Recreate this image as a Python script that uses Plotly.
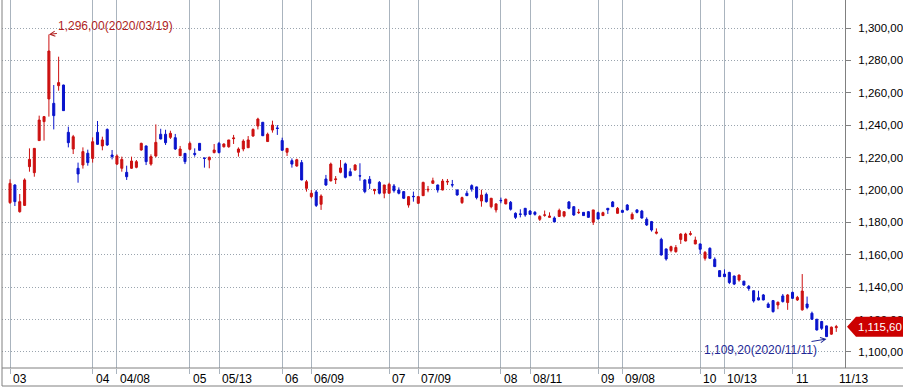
import pandas as pd
import plotly.graph_objects as go

# ---- data -------------------------------------------------------------
holidays = ["2020-04-15", "2020-04-30", "2020-05-01", "2020-05-05", "2020-08-17",
            "2020-09-30", "2020-10-01", "2020-10-02", "2020-10-09"]
dates = [d.strftime("%Y-%m-%d") for d in pd.bdate_range("2020-03-09", "2020-11-13")
         if d.strftime("%Y-%m-%d") not in holidays]

open_ = [1192.2, 1203.1, 1186.6, 1190.5, 1214.4, 1210.7, 1230.5, 1242.2, 1256.2, 1253.5,
         1264.4, 1264.8, 1235.6, 1225.3, 1213.4, 1215.4, 1222.7, 1219.5, 1235.6, 1227.2,
         1237.4, 1221.6, 1216.0, 1213.4, 1210.9, 1213.4, 1214.0, 1224.7, 1227.2, 1216.0,
         1221.0, 1234.4, 1234.4, 1232.5, 1232.3, 1221.2, 1222.6, 1225.1, 1222.6, 1228.8,
         1219.8, 1218.6, 1223.1, 1228.8, 1226.7, 1226.7, 1231.7, 1223.3, 1225.3, 1226.1,
         1233.3, 1239.5, 1241.8, 1229.9, 1237.0, 1238.3, 1230.5, 1223.3, 1218.1, 1214.8,
         1216.9, 1201.0, 1195.9, 1198.8, 1191.2, 1206.8, 1205.6, 1206.4, 1210.9, 1216.1,
         1211.3, 1212.3, 1208.8, 1206.2, 1206.6, 1199.6, 1204.7, 1198.0, 1198.0, 1202.5,
         1200.0, 1199.0, 1190.7, 1196.1, 1191.8, 1196.5, 1200.0, 1204.1, 1203.1, 1200.0,
         1204.9, 1203.3, 1200.0, 1192.2, 1198.0, 1202.7, 1201.9, 1193.2, 1197.3, 1189.7,
         1187.7, 1193.6, 1191.4, 1192.4, 1185.6, 1185.2, 1188.7, 1187.0, 1186.2, 1181.9,
         1184.4, 1183.1, 1182.7, 1183.7, 1183.9, 1192.6, 1189.7, 1186.0, 1186.2, 1186.6,
         1180.1, 1186.0, 1184.2, 1188.7, 1192.6, 1185.6, 1187.4, 1190.7, 1182.1, 1187.7,
         1187.0, 1181.9, 1180.5, 1173.3, 1169.5, 1163.6, 1162.6, 1161.9, 1169.5, 1168.5,
         1172.6, 1166.7, 1166.7, 1157.8, 1164.0, 1157.2, 1150.2, 1148.1, 1149.1, 1146.9,
         1144.4, 1143.7, 1140.5, 1137.8, 1133.5, 1135.2, 1129.6, 1131.7, 1129.0, 1134.6,
         1130.5, 1136.8, 1132.1, 1126.0, 1129.6, 1123.9, 1120.2, 1118.8, 1116.1, 1111.0,
         1115.0]
high = [1206.6, 1203.5, 1197.5, 1207.2, 1225.7, 1225.9, 1245.9, 1245.7, 1296.0, 1264.8,
        1282.3, 1265.0, 1239.1, 1234.0, 1216.9, 1226.3, 1224.9, 1232.5, 1242.6, 1232.9,
        1238.0, 1224.7, 1222.0, 1220.6, 1215.0, 1220.6, 1218.5, 1229.2, 1227.4, 1222.0,
        1240.5, 1237.8, 1237.2, 1236.6, 1234.6, 1227.2, 1222.8, 1229.9, 1225.7, 1229.0,
        1219.9, 1220.6, 1228.4, 1229.7, 1228.8, 1230.9, 1234.0, 1226.3, 1231.3, 1233.3,
        1238.0, 1244.6, 1242.0, 1235.4, 1242.8, 1240.1, 1232.3, 1225.9, 1219.5, 1219.3,
        1218.5, 1206.2, 1200.0, 1200.0, 1197.3, 1209.3, 1216.9, 1208.6, 1218.5, 1216.9,
        1213.4, 1216.0, 1216.5, 1206.6, 1208.6, 1200.6, 1205.5, 1203.1, 1204.5, 1203.7,
        1201.6, 1199.4, 1196.3, 1199.0, 1196.3, 1205.1, 1202.5, 1207.6, 1203.3, 1206.8,
        1206.8, 1206.2, 1200.4, 1195.9, 1199.6, 1203.5, 1202.1, 1200.2, 1198.4, 1195.1,
        1191.8, 1195.3, 1194.7, 1193.2, 1186.2, 1188.1, 1188.9, 1187.6, 1187.0, 1184.4,
        1187.3, 1186.2, 1183.7, 1188.5, 1186.8, 1193.2, 1189.9, 1188.3, 1186.4, 1187.0,
        1187.7, 1186.6, 1186.6, 1188.9, 1193.2, 1189.5, 1187.8, 1191.3, 1186.2, 1188.1,
        1187.7, 1183.1, 1180.9, 1176.3, 1170.5, 1163.8, 1165.6, 1166.0, 1173.3, 1173.6,
        1174.6, 1171.2, 1166.9, 1162.3, 1164.6, 1158.4, 1150.6, 1151.0, 1149.5, 1147.1,
        1147.7, 1143.9, 1141.3, 1138.0, 1137.8, 1135.8, 1130.6, 1132.1, 1131.1, 1135.8,
        1135.8, 1137.2, 1134.6, 1148.1, 1134.2, 1124.9, 1120.4, 1119.2, 1116.3, 1115.7,
        1116.7]
low = [1191.4, 1190.1, 1186.0, 1190.1, 1211.3, 1208.2, 1230.3, 1230.5, 1245.3, 1237.4,
       1261.3, 1248.8, 1226.3, 1222.2, 1204.5, 1213.2, 1215.0, 1216.9, 1227.8, 1224.5,
       1227.2, 1218.9, 1215.4, 1211.3, 1206.2, 1213.0, 1213.4, 1224.3, 1215.4, 1215.0,
       1220.2, 1231.3, 1227.8, 1231.5, 1224.7, 1221.0, 1216.0, 1224.5, 1220.6, 1224.3,
       1213.8, 1213.4, 1222.6, 1222.6, 1226.2, 1226.1, 1228.4, 1220.6, 1223.9, 1226.0,
       1232.9, 1237.4, 1233.3, 1229.8, 1235.4, 1234.0, 1224.4, 1221.0, 1213.8, 1214.4,
       1206.0, 1199.0, 1194.9, 1189.5, 1187.7, 1202.5, 1205.4, 1203.7, 1210.3, 1207.2,
       1208.6, 1212.0, 1205.7, 1198.0, 1200.6, 1197.3, 1197.3, 1194.9, 1197.8, 1198.4,
       1197.3, 1194.4, 1189.1, 1192.8, 1191.4, 1196.3, 1198.6, 1203.9, 1198.4, 1199.8,
       1203.1, 1201.6, 1196.5, 1191.4, 1196.3, 1199.0, 1194.2, 1189.7, 1192.2, 1188.7,
       1186.1, 1191.8, 1191.2, 1187.3, 1182.1, 1183.1, 1183.5, 1184.6, 1184.2, 1180.9,
       1183.5, 1182.9, 1180.1, 1183.3, 1183.1, 1188.1, 1184.0, 1185.2, 1184.0, 1182.9,
       1178.4, 1181.9, 1184.0, 1185.2, 1189.5, 1185.4, 1186.0, 1187.3, 1181.9, 1185.6,
       1182.3, 1177.8, 1174.3, 1172.6, 1159.5, 1156.4, 1161.5, 1161.3, 1166.7, 1168.3,
       1171.8, 1166.5, 1160.5, 1156.4, 1157.6, 1152.5, 1146.3, 1146.3, 1141.9, 1141.3,
       1143.4, 1140.9, 1137.8, 1130.5, 1131.9, 1131.9, 1127.3, 1124.3, 1126.4, 1130.5,
       1126.0, 1132.7, 1131.5, 1125.5, 1126.4, 1119.8, 1113.2, 1113.6, 1109.2, 1110.6,
       1112.4]
close = [1204.1, 1192.8, 1192.8, 1206.2, 1218.9, 1225.7, 1243.2, 1245.3, 1285.8, 1245.9,
         1266.3, 1249.0, 1229.2, 1232.9, 1209.9, 1223.7, 1216.9, 1229.8, 1228.2, 1230.9,
         1227.8, 1220.6, 1221.0, 1218.9, 1208.2, 1217.9, 1217.5, 1228.8, 1217.5, 1220.6,
         1229.4, 1231.5, 1229.2, 1235.0, 1225.3, 1225.3, 1217.5, 1228.8, 1222.0, 1224.5,
         1219.5, 1220.2, 1224.7, 1223.1, 1228.4, 1230.9, 1232.1, 1225.3, 1230.2, 1230.9,
         1237.4, 1243.8, 1233.5, 1234.4, 1240.1, 1238.0, 1224.5, 1225.7, 1216.0, 1218.7,
         1206.2, 1205.1, 1198.0, 1190.5, 1196.3, 1203.1, 1216.0, 1206.8, 1213.6, 1207.8,
         1208.8, 1215.4, 1208.6, 1199.0, 1204.1, 1200.4, 1198.0, 1203.1, 1203.5, 1199.6,
         1198.0, 1194.9, 1195.9, 1195.9, 1195.9, 1204.7, 1200.4, 1205.7, 1200.0, 1205.5,
         1205.3, 1203.1, 1196.9, 1195.3, 1196.5, 1200.6, 1195.3, 1196.9, 1192.8, 1194.9,
         1191.4, 1193.4, 1194.3, 1188.1, 1183.1, 1185.0, 1184.6, 1185.0, 1185.0, 1183.7,
         1184.6, 1183.9, 1180.3, 1187.4, 1186.6, 1188.7, 1184.6, 1186.2, 1184.2, 1183.1,
         1187.7, 1182.1, 1186.0, 1187.7, 1189.7, 1188.7, 1186.2, 1187.7, 1185.0, 1186.2,
         1182.7, 1178.4, 1175.3, 1174.0, 1159.9, 1157.4, 1165.0, 1164.5, 1172.8, 1172.8,
         1173.0, 1169.1, 1163.4, 1161.5, 1157.8, 1152.7, 1146.5, 1146.5, 1142.9, 1141.9,
         1147.5, 1141.3, 1139.2, 1131.5, 1132.1, 1132.1, 1127.5, 1124.9, 1130.7, 1131.1,
         1135.2, 1133.1, 1133.7, 1137.6, 1127.5, 1120.2, 1113.6, 1114.6, 1109.5, 1115.3,
         1115.6]

tick_dates = ["2020-03-09", "2020-04-01", "2020-04-08", "2020-05-04", "2020-05-13",
              "2020-06-01", "2020-06-09", "2020-07-01", "2020-07-09", "2020-08-03",
              "2020-08-11", "2020-09-01", "2020-09-08", "2020-10-05", "2020-10-13",
              "2020-11-02"]
tick_labels = ["03", "04", "04/08", "05", "05/13", "06", "06/09", "07", "07/09", "08",
               "08/11", "09", "09/08", "10", "10/13", "11"]
last_label = "11/13"

y_ticks = [1100, 1120, 1140, 1160, 1180, 1200, 1220, 1240, 1260, 1280, 1300]
y_labels = ["1,100,00", "1,120,00", "1,140,00", "1,160,00", "1,180,00", "1,200,00",
            "1,220,00", "1,240,00", "1,260,00", "1,280,00", "1,300,00"]

max_label = "1,296,00(2020/03/19)"
min_label = "1,109,20(2020/11/11)"
last_price_label = "1,115,60"

# ---- figure -----------------------------------------------------------
RED = "#cc1111"
BLUE = "#0a14cc"
FONT = "Liberation Sans"

idx = list(range(len(dates)))
tick_idx = [dates.index(d) for d in tick_dates]

fig = go.Figure(go.Candlestick(
    x=idx, open=open_, high=high, low=low, close=close,
    increasing=dict(line=dict(color=RED, width=1), fillcolor=RED),
    decreasing=dict(line=dict(color=BLUE, width=1), fillcolor=BLUE),
    whiskerwidth=0, hoverinfo="skip", showlegend=False,
))

W, H = 903, 392
ML, MR, MT, MB = 2, 58, 0, 24
pw, ph = W - ML - MR, H - MT - MB

fig.update_layout(
    width=W, height=H,
    margin=dict(l=ML, r=MR, t=MT, b=MB, pad=0),
    paper_bgcolor="white", plot_bgcolor="white",
    boxgap=0.4,
    font=dict(family=FONT, size=12, color="black"),
    xaxis=dict(
        range=[-1.65, 171.8], rangeslider=dict(visible=False),
        tickmode="array", tickvals=tick_idx, showticklabels=False,
        ticks="outside", ticklen=5, tickcolor="#aab4be", tickwidth=1,
        showgrid=True, gridcolor="#aab4be", gridwidth=1,
        zeroline=False, showline=False, fixedrange=True,
    ),
    yaxis=dict(
        side="right", range=[1090.1, 1317.3],
        tickmode="array", tickvals=y_ticks, ticktext=y_labels,
        ticks="outside", ticklen=5, tickcolor="#808080",
        ticklabelstandoff=5,
        showgrid=True, gridcolor="#9aa4ae", griddash="1px,2px", gridwidth=1,
        showline=True, linecolor="#808080", linewidth=1,
        zeroline=False, tickfont=dict(family=FONT, size=11.5, color="black"),
        fixedrange=True,
    ),
)

# frame lines
bottom_y = -18 / ph
right_x = (W - ML) / pw
line_style = dict(color="#808080", width=1)
fig.add_shape(type="line", xref="paper", yref="paper", x0=0, x1=0, y0=bottom_y, y1=1, line=line_style)
fig.add_shape(type="line", xref="paper", yref="paper", x0=0, x1=right_x, y0=0, y1=0, line=line_style)
fig.add_shape(type="line", xref="paper", yref="paper", x0=0, x1=right_x, y0=bottom_y, y1=bottom_y, line=line_style)

# x labels (left-aligned after the tick)
for i, lab in zip(tick_idx + [len(dates) - 1], tick_labels + [last_label]):
    fig.add_annotation(x=i, xref="x", y=0, yref="paper", yanchor="top", xanchor="left",
                       xshift=1, yshift=-2, text=lab, showarrow=False,
                       font=dict(family=FONT, size=12, color="black"))

# max / min annotations
i_max = high.index(max(high))
i_min = low.index(min(low))
fig.add_annotation(x=i_max, y=max(high), xref="x", yref="y", text=max_label,
                   showarrow=True, arrowhead=5, arrowsize=1, arrowwidth=1,
                   arrowcolor="#b01e1e", ax=67, ay=-9, xanchor="center",
                   font=dict(family=FONT, size=12, color="#b01e1e"))
fig.add_annotation(x=i_min, y=min(low) - 1.2, xref="x", yref="y", text=min_label,
                   showarrow=True, arrowhead=5, arrowsize=1, arrowwidth=1,
                   arrowcolor="#1e2896", ax=-66, ay=11,
                   font=dict(family=FONT, size=12, color="#1e2896"))

# last price tag
fig.add_shape(type="path", xref="paper", yref="y", xsizemode="pixel", ysizemode="pixel",
              xanchor=1, yanchor=close[-1],
              path="M 2,0 L 11,10 L 60,10 L 60,-10 L 11,-10 Z",
              fillcolor="#cc0000", line=dict(width=0))
fig.add_annotation(x=1, xref="paper", y=close[-1], yref="y", xanchor="left", xshift=11,
                   text=last_price_label, showarrow=False,
                   font=dict(family=FONT, size=11.5, color="white"))

fig.write_html("out.html")
